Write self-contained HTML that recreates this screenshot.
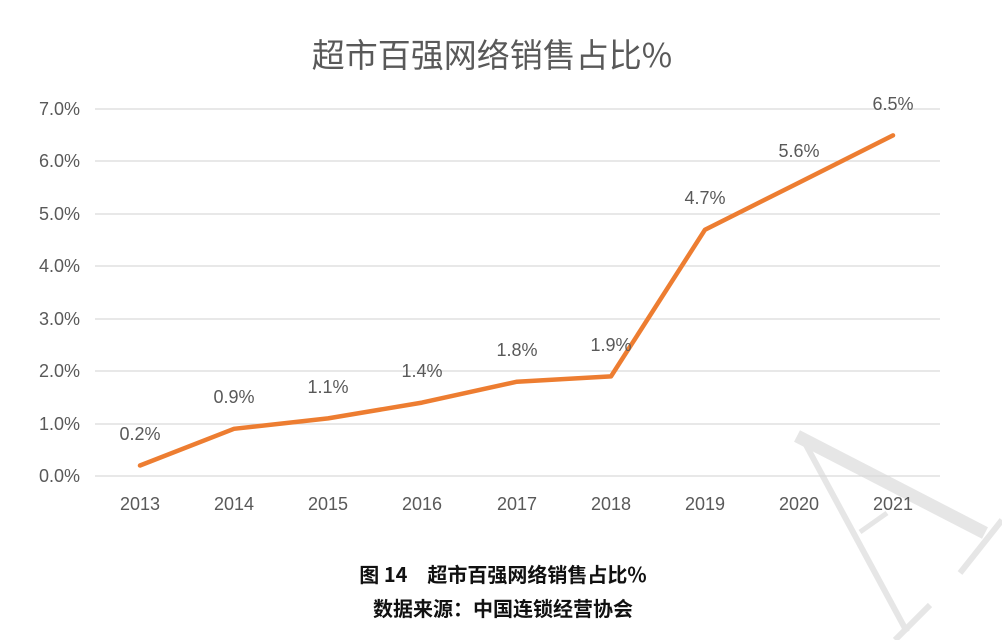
<!DOCTYPE html>
<html><head><meta charset="utf-8"><style>
body{margin:0;background:#fff;width:1002px;height:640px;overflow:hidden}
svg{display:block}
</style></head><body>
<svg width="1002" height="640" xmlns="http://www.w3.org/2000/svg" font-family="Liberation Sans, Noto Sans CJK SC, sans-serif">
<g stroke="#e6e6e6" stroke-linecap="butt">
<line x1="797" y1="436" x2="985" y2="533" stroke-width="13"/>
<line x1="806" y1="445" x2="907" y2="632" stroke-width="6"/>
<line x1="860" y1="532" x2="887" y2="513" stroke-width="5"/>
<line x1="960" y1="573" x2="1002" y2="520" stroke-width="6"/>
<line x1="895" y1="640" x2="930" y2="605" stroke-width="6"/>
</g>
<text x="492" y="67" text-anchor="middle" font-size="33" fill="#595959" font-family="Noto Sans CJK SC, sans-serif">超市百强网络销售占比%</text>
<g stroke="#d9d9d9" stroke-width="1.3">
<line x1="95" x2="940" y1="109" y2="109"/><line x1="95" x2="940" y1="161" y2="161"/>
<line x1="95" x2="940" y1="214" y2="214"/><line x1="95" x2="940" y1="266" y2="266"/>
<line x1="95" x2="940" y1="319" y2="319"/><line x1="95" x2="940" y1="371" y2="371"/>
<line x1="95" x2="940" y1="424" y2="424"/><line x1="95" x2="940" y1="476" y2="476"/>
</g>
<g font-size="18" fill="#595959" text-anchor="end">
<text x="80" y="115">7.0%</text><text x="80" y="167">6.0%</text><text x="80" y="220">5.0%</text>
<text x="80" y="272">4.0%</text><text x="80" y="325">3.0%</text><text x="80" y="377">2.0%</text>
<text x="80" y="430">1.0%</text><text x="80" y="482">0.0%</text>
</g>
<g font-size="18" fill="#595959" text-anchor="middle">
<text x="140" y="510">2013</text><text x="234" y="510">2014</text><text x="328" y="510">2015</text>
<text x="422" y="510">2016</text><text x="517" y="510">2017</text><text x="611" y="510">2018</text>
<text x="705" y="510">2019</text><text x="799" y="510">2020</text><text x="893" y="510">2021</text>
</g>
<polyline fill="none" stroke="#ed7d31" stroke-width="4.5" stroke-linejoin="round" stroke-linecap="round"
points="140,465.5 234,428.8 328,418.4 422,402.6 517,381.7 611,376.4 705,229.7 799,182.6 893,135.4"/>
<g font-size="18" fill="#595959" text-anchor="middle">
<text x="140" y="440">0.2%</text><text x="234" y="403">0.9%</text><text x="328" y="393">1.1%</text>
<text x="422" y="377">1.4%</text><text x="517" y="356">1.8%</text><text x="611" y="351">1.9%</text>
<text x="705" y="204">4.7%</text><text x="799" y="157">5.6%</text><text x="893" y="110">6.5%</text>
</g>
<g font-family="Noto Sans CJK SC, sans-serif" font-weight="bold" font-size="20" fill="#111" text-anchor="middle">
<text x="503" y="582">图 14　超市百强网络销售占比%</text>
<text x="503" y="616">数据来源：中国连锁经营协会</text>
</g>
</svg>
</body></html>
